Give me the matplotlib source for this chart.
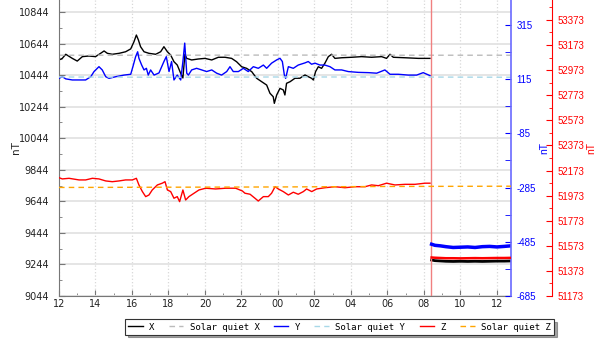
import numpy as np
import matplotlib
matplotlib.use("Agg")
import matplotlib.pyplot as plt
from matplotlib.ticker import FixedLocator, MultipleLocator

plt.rcParams["axes.unicode_minus"] = False

# hours since 12:00 of the first day
hour_labels = ["12", "14", "16", "18", "20", "22", "00", "02", "04", "06", "08", "10", "12"]
hour_ticks = [0, 2, 4, 6, 8, 10, 12, 14, 16, 18, 20, 22, 24]

x_t = [0, .18, .37, .73, 1.0, 1.28, 1.64, 2.0, 2.28, 2.47, 2.65, 2.92, 3.29, 3.65, 3.93,
       4.11, 4.24, 4.35, 4.47, 4.66, 4.93, 5.3, 5.57, 5.75, 5.94, 6.12, 6.3, 6.48, 6.67, 6.79,
       6.9, 7.0, 7.27, 7.63, 8.0, 8.37, 8.73, 9.1, 9.46, 9.73, 10.01, 10.28, 10.56, 10.83, 11.11,
       11.38, 11.56, 11.74, 11.8, 11.93, 12.11, 12.29, 12.38, 12.47, 12.66, 12.93, 13.2, 13.48,
       13.66, 13.84, 13.94, 14.06, 14.21, 14.39, 14.57, 14.76, 14.94, 15.12, 15.49, 16.04, 16.58,
       17.13, 17.68, 17.95, 18.14, 18.32, 18.96, 19.69, 20.33]
x_v = [10540, 10550, 10576, 10550, 10533, 10561, 10565, 10561, 10582, 10597, 10582, 10576, 10582,
       10592, 10610, 10656, 10698, 10667, 10624, 10592, 10582, 10576, 10592, 10624, 10592, 10571,
       10529, 10508, 10455, 10426, 10576, 10550, 10540, 10546, 10550, 10540, 10557, 10557, 10550,
       10529, 10497, 10487, 10466, 10424, 10402, 10381, 10329, 10307, 10265, 10318, 10360, 10350,
       10318, 10392, 10402, 10424, 10424, 10445, 10434, 10424, 10413, 10466, 10497, 10487, 10519,
       10561, 10576, 10550, 10554, 10557, 10561, 10557, 10561, 10550, 10576, 10557, 10554, 10550,
       10550]

y_t = [0, .18, .37, .73, 1.1, 1.46, 1.74, 1.92, 2.19, 2.37, 2.56, 2.74, 3.11, 3.56, 3.93, 4.05,
       4.2, 4.31, 4.38, 4.53, 4.66, 4.79, 4.89, 5.02, 5.21, 5.48, 5.75, 5.88, 6.03, 6.17, 6.3,
       6.48, 6.67, 6.79, 6.89, 7.0, 7.09, 7.27, 7.54, 7.82, 8.09, 8.37, 8.64, 8.91, 9.19, 9.37,
       9.55, 9.83, 10.1, 10.37, 10.65, 10.92, 11.2, 11.38, 11.65, 11.93, 12.11, 12.24, 12.35,
       12.42, 12.57, 12.84, 13.11, 13.48, 13.66, 13.84, 14.03, 14.3, 14.57, 14.85, 15.12, 15.49,
       15.85, 16.4, 16.95, 17.41, 17.86, 18.14, 18.59, 19.14, 19.6, 19.96, 20.33]
y_v = [118, 124, 116, 112, 112, 112, 124, 143, 161, 149, 124, 118, 124, 130, 133, 161, 198, 216,
       192, 167, 149, 155, 130, 149, 130, 138, 180, 198, 143, 180, 112, 130, 112, 180, 248, 137,
       130, 149, 155, 149, 143, 149, 137, 130, 143, 161, 143, 143, 155, 143, 161, 155, 167, 155,
       174, 186, 192, 180, 130, 118, 161, 155, 167, 175, 180, 170, 174, 167, 167, 161, 149, 149,
       143, 140, 139, 137, 149, 133, 133, 130, 130, 139, 128]

z_t = [0, .18, .55, 1.1, 1.46, 1.83, 2.19, 2.56, 2.92, 3.29, 3.65, 4.02, 4.24, 4.38, 4.57, 4.75,
       4.93, 5.11, 5.39, 5.66, 5.81, 5.94, 6.12, 6.3, 6.48, 6.61, 6.79, 6.94, 7.12, 7.4, 7.67,
       8.04, 8.58, 9.13, 9.68, 10.05, 10.19, 10.47, 10.74, 10.92, 11.2, 11.47, 11.65, 11.84,
       12.02, 12.29, 12.57, 12.84, 13.11, 13.39, 13.57, 13.85, 14.12, 14.58, 15.12, 15.67, 16.22,
       16.77, 17.13, 17.5, 17.95, 18.41, 18.96, 19.51, 20.06, 20.33]
z_v = [52116, 52106, 52111, 52098, 52098, 52111, 52106, 52090, 52084, 52090, 52098, 52098, 52111,
       52058, 52005, 51965, 51978, 52018, 52058, 52072, 52084, 52018, 52005, 51952, 51965, 51925,
       52018, 51938, 51965, 51992, 52018, 52032, 52026, 52032, 52032, 52010, 51992, 51984, 51952,
       51930, 51965, 51965, 51992, 52044, 52026, 52005, 51978, 52000, 51984, 52005, 52026, 52005,
       52026, 52036, 52044, 52036, 52044, 52044, 52058, 52052, 52072, 52058, 52063, 52063, 52072,
       52072]

# readings after the marker line
post_t = [20.42, 20.6, 20.9, 21.2, 21.6, 22.0, 22.4, 22.8, 23.2, 23.6, 24.0, 24.4, 24.75]
post_x = [9272, 9268, 9266, 9264, 9263, 9264, 9263, 9264, 9263, 9264, 9265, 9265, 9266]
post_y = [-494, -498, -500, -503, -506, -505, -504, -506, -503, -502, -504, -502, -500]
post_z = [51480, 51478, 51476, 51474, 51474, 51473, 51474, 51475, 51474, 51475, 51476, 51476, 51477]

# solar quiet curves
q_t = [0, 6, 12, 18, 24.77]
q_x = [10570, 10570, 10571, 10570, 10570]
q_y = [123, 122, 123, 123, 122]
q_z = [52038, 52040, 52042, 52046, 52048]

marker_t = 20.38

blue_c = "#0000ff"
red_c = "#ff0000"
axis_gray = "#777777"
narrow = "Liberation Sans"

fig = plt.figure(figsize=(6, 3.4), dpi=100)
ax = fig.add_axes([59/600, 1 - 296/340, 452/600, 296/340])
ax2 = ax.twinx()
ax3 = ax.twinx()
ax3.spines["right"].set_position(("axes", 41/452 + 1))

# grid on the left axis
ax.set_axisbelow(True)
ax.grid(axis="y", color="#e3e3e3", lw=1.3, ls="-")
ax.grid(axis="x", color="#d8d8d8", lw=0.9, ls=":")

lx, = ax.plot(x_t, x_v, color="black", lw=1.0)
ax.plot(post_t, post_x, color="black", lw=2.0)
lqx, = ax.plot(q_t, q_x, color="#bbbbbb", lw=1.0, ls=(0, (4, 3)))
ax.axvline(marker_t, color="#f08080", lw=1.0)

ly, = ax2.plot(y_t, y_v, color=blue_c, lw=1.0)
ax2.plot(post_t, post_y, color=blue_c, lw=2.5)
lqy, = ax2.plot(q_t, q_y, color="#a8d8e8", lw=1.0, ls=(0, (4, 3)))

lz, = ax3.plot(z_t, z_v, color=red_c, lw=1.0)
ax3.plot(post_t, post_z, color=red_c, lw=1.8)
lqz, = ax3.plot(q_t, q_z, color="#ffa500", lw=1.0, ls=(0, (4, 3)))

ax.set_xlim(0, 24.77)
ax.set_ylim(9044, 10920)
ax2.set_ylim(-685, 407)
ax3.set_ylim(51173, 53532)

ax.xaxis.set_major_locator(FixedLocator(hour_ticks))
ax.set_xticklabels(hour_labels)
ax.xaxis.set_minor_locator(MultipleLocator(1))

ax.yaxis.set_major_locator(FixedLocator(np.arange(9044, 10845, 200)))
ax.yaxis.set_minor_locator(FixedLocator(np.arange(9144, 10945, 200)))
ax2.yaxis.set_major_locator(FixedLocator(np.arange(-685, 316, 200)))
ax2.yaxis.set_minor_locator(FixedLocator(np.arange(-585, 407, 200)))
ax3.yaxis.set_major_locator(FixedLocator(np.arange(51173, 53374, 200)))
ax3.yaxis.set_minor_locator(FixedLocator(np.arange(51273, 53532, 200)))

for a in (ax, ax2, ax3):
    for s in ("top", "left", "bottom", "right"):
        a.spines[s].set_visible(False)

ax.spines["left"].set_visible(True)
ax.spines["bottom"].set_visible(True)
ax.spines["left"].set_color(axis_gray)
ax.spines["bottom"].set_color(axis_gray)
ax2.spines["right"].set_visible(True)
ax2.spines["right"].set_color("#6a6aff")
ax2.spines["right"].set_linewidth(1.2)
ax3.spines["right"].set_visible(True)
ax3.spines["right"].set_color(red_c)

ax.tick_params(axis="both", which="major", direction="in", length=4, color=axis_gray,
               labelsize=7, labelcolor="#222222")
ax.tick_params(axis="both", which="minor", direction="in", length=2.5, color=axis_gray)
ax.tick_params(axis="y", pad=7)
ax.tick_params(axis="x", pad=2)
ax2.tick_params(axis="y", which="major", direction="in", length=4, color=blue_c,
                labelsize=7, labelcolor=blue_c, pad=4)
ax2.tick_params(axis="y", which="minor", direction="in", length=4, color=blue_c)
ax3.tick_params(axis="y", which="major", direction="in", length=4, color=red_c,
                labelsize=7, labelcolor=red_c, pad=4)
ax3.tick_params(axis="y", which="minor", direction="in", length=2.5, color=red_c)
for lab in ax2.get_yticklabels() + ax3.get_yticklabels():
    lab.set_family(narrow)

ax.set_ylabel("nT", fontsize=7.5, color="#222222", labelpad=-2)
ax2.set_ylabel("nT", fontsize=7.5, color=blue_c, labelpad=2, family=narrow)
ax3.set_ylabel("nT", fontsize=7.5, color=red_c, labelpad=1, family=narrow)

leg = fig.legend([lx, lqx, ly, lqy, lz, lqz],
                 ["X", "Solar quiet X", "Y", "Solar quiet Y", "Z", "Solar quiet Z"],
                 loc="center", bbox_to_anchor=(339.5/600, 13/340), ncol=6,
                 prop={"family": "DejaVu Sans Mono", "size": 6.5},
                 frameon=True, fancybox=False, shadow=True, framealpha=1,
                 edgecolor="#333333", handlelength=1.6, handletextpad=0.7,
                 columnspacing=1.6, borderpad=0.35)
leg.get_frame().set_linewidth(0.8)

fig.savefig("out.png", dpi=100)
